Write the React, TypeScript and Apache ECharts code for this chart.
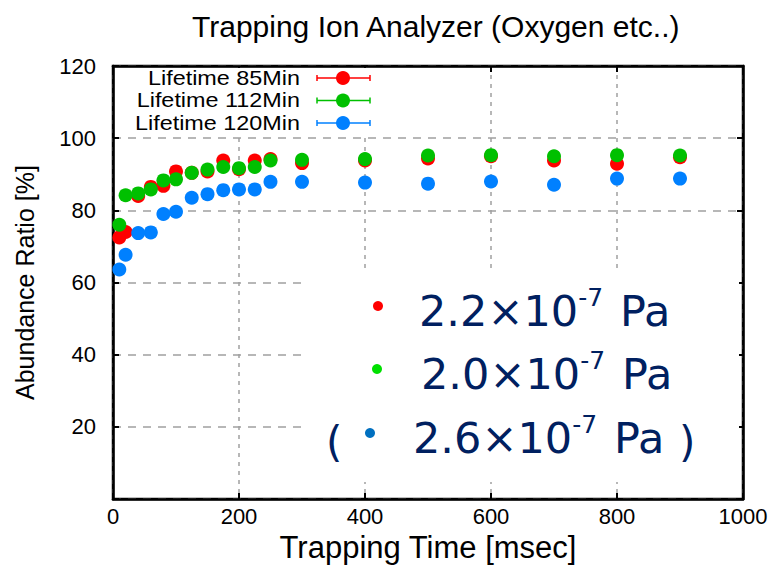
import React, { useEffect, useRef } from "react";
import * as echarts from "echarts";

const xValues = [10, 20, 40, 60, 80, 100, 125, 150, 175, 200, 225, 250, 300, 400, 500, 600, 700, 800, 900];
const red85 = [72.5, 74.0, 84.0, 86.5, 86.8, 90.8, 90.4, 90.8, 93.8, 91.4, 93.8, 94.2, 93.1, 93.8, 94.4, 95.0, 93.8, 92.9, 94.7];
const green112 = [76.0, 84.2, 84.7, 85.8, 88.3, 88.6, 90.4, 91.3, 92.0, 91.7, 92.0, 93.8, 94.0, 94.2, 95.2, 95.3, 95.0, 95.3, 95.2];
const blue120 = [63.6, 67.7, 73.7, 73.9, 79.0, 79.6, 83.5, 84.5, 85.6, 85.8, 85.8, 87.9, 87.9, 87.7, 87.4, 88.0, 87.1, 88.8, 88.8];

const seriesNames = ["Lifetime 85Min", "Lifetime 112Min", "Lifetime 120Min"];
const seriesColors = ["#ff0000", "#00c000", "#0080ff"];
const seriesData = [red85, green112, blue120];

const xTicks = { min: 0, max: 1000, interval: 200 };
const yTicks = { min: 0, max: 120, interval: 20 };

const pressureLabels = ["2.2×10", "2.0×10", "2.6×10"];
const pressureExp = "-7";
const pressureDots = ["#ff0000", "#00e000", "#0070c0"];

const SANS = "'Liberation Sans', Arial, sans-serif";
const VERD = "'DejaVu Sans', Verdana, sans-serif";
const NAVY = "#002060";

export default function App() {
  const ref = useRef<HTMLDivElement>(null);
  useEffect(() => {
    if (!ref.current) return;
    const chart = echarts.init(ref.current, null, { renderer: "svg" });
    const gridLeft = 113, gridTop = 66, gridW = 630, gridH = 438;

    const legendEls: any[] = [];
    legendEls.push({ type: "rect", shape: { x: 115, y: 68, width: 262, height: 66 }, style: { fill: "#fff" }, z: 1 });
    const rowsY = [78, 100.5, 123];
    seriesNames.forEach((n, i) => {
      const y = rowsY[i];
      legendEls.push({ type: "text", x: 300, y, z: 10, scaleX: 1.17, style: { text: n, align: "right", verticalAlign: "middle", fontSize: 20, lineHeight: 20, fontFamily: SANS, fill: "#000" } });
      legendEls.push({ type: "line", z: 10, shape: { x1: 317, y1: y, x2: 370, y2: y }, style: { stroke: seriesColors[i], lineWidth: 1.5 } });
      legendEls.push({ type: "line", z: 10, shape: { x1: 317, y1: y - 3, x2: 317, y2: y + 3 }, style: { stroke: seriesColors[i], lineWidth: 1.5 } });
      legendEls.push({ type: "line", z: 10, shape: { x1: 370, y1: y - 3, x2: 370, y2: y + 3 }, style: { stroke: seriesColors[i], lineWidth: 1.5 } });
      legendEls.push({ type: "circle", z: 10, shape: { cx: 343, cy: y, r: 7 }, style: { fill: seriesColors[i] } });
    });

    const annEls: any[] = [];
    annEls.push({ type: "rect", shape: { x: 305, y: 268, width: 434, height: 214 }, style: { fill: "#fff" }, z: 1 });
    const annRows = [
      { dx: 378, tx: 419, y: 311 },
      { dx: 377, tx: 421, y: 374 },
      { dx: 370, tx: 413, y: 438 },
    ];
    annRows.forEach((r, i) => {
      annEls.push({ type: "circle", z: 10, shape: { cx: r.dx, cy: r.y - 5, r: 5 }, style: { fill: pressureDots[i] } });
      annEls.push({
        type: "text", x: r.tx, y: r.y, z: 10,
        style: {
          text: `{m|${pressureLabels[i]}}{s|${pressureExp}}{g| }{m|Pa}`,
          verticalAlign: "middle",
          rich: {
            m: { fontSize: 43, fontFamily: VERD, fill: NAVY, lineHeight: 52, verticalAlign: "middle" },
            s: { fontSize: 25, fontFamily: VERD, fill: NAVY, lineHeight: 30, verticalAlign: "top" },
            g: { width: 17, fontSize: 20, lineHeight: 20 },
          },
        },
      });
    });
    annEls.push({ type: "text", x: 326, y: 442, z: 10, style: { text: "(", verticalAlign: "middle", fontSize: 42, fontFamily: VERD, fill: NAVY } });
    annEls.push({ type: "text", x: 679, y: 442, z: 10, style: { text: ")", verticalAlign: "middle", fontSize: 42, fontFamily: VERD, fill: NAVY } });

    const axisCommon = {
      type: "value" as const,
      axisLine: { show: true, onZero: false, lineStyle: { color: "#000", width: 2.5 } },
      axisTick: { show: true, inside: true, length: 6, lineStyle: { color: "#000", width: 2 } },
    };

    chart.setOption({
      animation: false,
      title: {
        text: "Trapping Ion Analyzer (Oxygen etc..)",
        left: 192, top: 11, padding: 0,
        textStyle: { fontSize: 30, fontWeight: "normal", fontFamily: SANS, color: "#000" },
      },
      grid: { left: gridLeft, top: gridTop, width: gridW, height: gridH, show: true, borderColor: "#000", borderWidth: 2.5, backgroundColor: "#fff" },
      xAxis: [
        {
          ...axisCommon, ...xTicks, position: "bottom",
          axisLabel: { fontSize: 22, color: "#000", fontFamily: SANS, margin: 6, formatter: (v: number) => String(v) },
          splitLine: { show: true, lineStyle: { color: "#a0a0a0", width: 1.5, type: [4, 5] } },
          name: "Trapping Time [msec]", nameLocation: "middle", nameGap: 28,
          nameTextStyle: { fontSize: 31, fontFamily: SANS, color: "#000" },
        },
        { ...axisCommon, ...xTicks, position: "top", axisLabel: { show: false }, splitLine: { show: false } },
      ],
      yAxis: [
        {
          ...axisCommon, ...yTicks, position: "left",
          axisLabel: { fontSize: 22, color: "#000", fontFamily: SANS, margin: 17, formatter: (v: number) => (v === 0 ? "" : String(v)) },
          splitLine: { show: true, lineStyle: { color: "#a0a0a0", width: 1.5, type: [8, 7] } },
          name: "Abundance Ratio [%]", nameLocation: "middle", nameGap: 76, nameRotate: 90,
          nameTextStyle: { fontSize: 25, fontFamily: SANS, color: "#000" },
        },
        { ...axisCommon, ...yTicks, position: "right", axisLabel: { show: false }, splitLine: { show: false } },
      ],
      series: seriesData.map((d, i) => ({
        type: "scatter",
        name: seriesNames[i],
        xAxisIndex: 0, yAxisIndex: 0,
        symbol: "circle", symbolSize: 14,
        itemStyle: { color: seriesColors[i], opacity: 1 },
        data: d.map((v, j) => [xValues[j], v]),
        z: 3,
      })),
      graphic: { elements: [...legendEls, ...annEls] },
    });
    return () => chart.dispose();
  }, []);
  return <div ref={ref} style={{ position: "absolute", left: 0, top: 0, width: 772, height: 568, background: "#fff" }} />;
}
